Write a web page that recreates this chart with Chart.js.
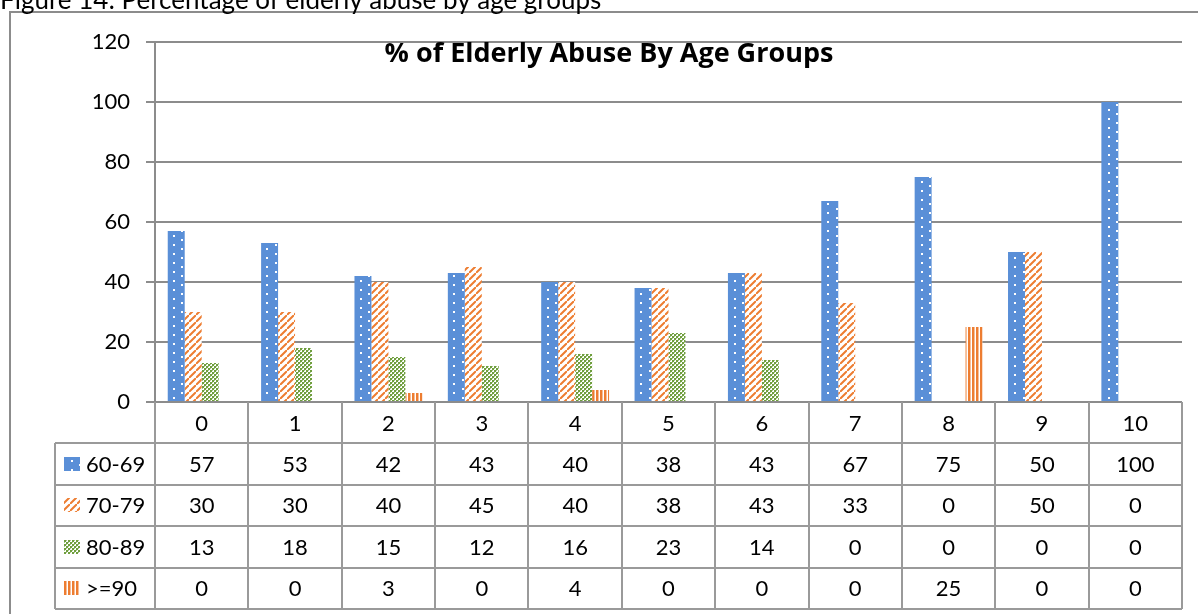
<!DOCTYPE html>
<html>
<head>
<meta charset="utf-8">
<script src="https://cdn.jsdelivr.net/npm/chart.js@4/dist/chart.umd.min.js"></script>
<style>
  html, body { margin: 0; padding: 0; background: #fff; }
  #wrap { width: 1198px; height: 614px; position: relative; }
</style>
</head>
<body>
<div id="wrap"><canvas id="c" width="1198" height="614"></canvas></div>
<script>
// Categories along the x axis
const categories = ['0', '1', '2', '3', '4', '5', '6', '7', '8', '9', '10'];

// Series names
const seriesNames = ['60-69', '70-79', '80-89', '>=90'];

// Percentage of elderly abuse per age group
const age6069 = [57, 53, 42, 43, 40, 38, 43, 67, 75, 50, 100];
const age7079 = [30, 30, 40, 45, 40, 38, 43, 33, 0, 50, 0];
const age8089 = [13, 18, 15, 12, 16, 23, 14, 0, 0, 0, 0];
const age90plus = [0, 0, 3, 0, 4, 0, 0, 0, 25, 0, 0];

// Y axis ticks
const yTicks = [0, 20, 40, 60, 80, 100, 120];

const chartTitle = '% of Elderly Abuse By Age Groups';
const figureCaption = 'Figure 14: Percentage of elderly abuse by age groups';

const FONT = 'Lato, "Open Sans", sans-serif';
const TITLE_FONT = '"Open Sans", Lato, sans-serif';
const GRID = '#8c8c8c';
const TABLE_LINE = '#9a9a9a';

const canvas = document.getElementById('c');
const ctx = canvas.getContext('2d');

function makePattern(w, h, draw) {
  const c = document.createElement('canvas');
  c.width = w; c.height = h;
  const g = c.getContext('2d');
  draw(g, w, h);
  return ctx.createPattern(c, 'repeat');
}

// Blue with small white dots
const patDots = makePattern(17, 9, (g, w, h) => {
  g.fillStyle = '#5a8fd7'; g.fillRect(0, 0, w, h);
  g.fillStyle = '#ffffff';
  g.fillRect(3, 1, 2, 2);
  g.fillRect(11, 5, 2, 2);
});
// Orange wide upward diagonal on white
const patDiag = makePattern(7, 7, (g, w, h) => {
  g.fillStyle = '#ffffff'; g.fillRect(0, 0, w, h);
  g.strokeStyle = '#ed7d31'; g.lineWidth = 2;
  g.beginPath();
  g.moveTo(-1, h + 1); g.lineTo(w + 1, -1);
  g.moveTo(-2, 1); g.lineTo(1, -2);
  g.moveTo(w - 1, h + 2); g.lineTo(w + 2, h - 1);
  g.stroke();
});
// Green small checkerboard
const patCheck = makePattern(4, 4, (g, w, h) => {
  g.fillStyle = '#ffffff'; g.fillRect(0, 0, w, h);
  g.fillStyle = '#6f9e3e';
  g.fillRect(0, 0, 2, 2);
  g.fillRect(2, 2, 2, 2);
  g.fillStyle = '#a9c98a';
  g.fillRect(2, 0, 1, 1);
  g.fillRect(0, 2, 1, 1);
});
// Orange vertical stripes on white
const patVert = makePattern(4, 4, (g, w, h) => {
  g.fillStyle = '#ffffff'; g.fillRect(0, 0, w, h);
  g.fillStyle = '#ed7d31'; g.fillRect(0, 0, 2, h);
  g.fillStyle = '#f6be98'; g.fillRect(2, 0, 1, h);
});

const patterns = [patDots, patDiag, patCheck, patVert];
const seriesData = [age6069, age7079, age8089, age90plus];

// Frame, caption, chart title and data table
const decorPlugin = {
  id: 'decor',
  afterDraw(chart) {
    const c = chart.ctx;
    const area = chart.chartArea;
    const xs = chart.scales.x;
    const n = categories.length;
    const step = xs.getPixelForValue(1) - xs.getPixelForValue(0);
    const colLeft = i => xs.getPixelForValue(i) - step / 2;
    const tableRight = colLeft(n);
    const legendLeft = 55;
    const headerH = 41;
    const rowH = 41.5;
    const top = area.bottom;
    const rowsTop = top + headerH;
    const bottom = rowsTop + rowH * seriesNames.length;

    c.save();
    // outer frame
    c.strokeStyle = GRID; c.lineWidth = 2;
    c.strokeRect(10, 12, 1210, 640);

    // caption
    c.fillStyle = '#000';
    c.font = '26px ' + FONT;
    c.textAlign = 'left'; c.textBaseline = 'alphabetic';
    c.fillText(figureCaption, 0, 9);

    // title
    c.font = 'bold 27px ' + TITLE_FONT;
    c.textAlign = 'center';
    c.fillText(chartTitle, 609, 62);

    // table grid
    c.strokeStyle = TABLE_LINE; c.lineWidth = 2;
    c.beginPath();
    for (let i = 0; i <= n; i++) {
      const x = Math.round(colLeft(i));
      c.moveTo(x, top); c.lineTo(x, bottom);
    }
    c.moveTo(legendLeft, rowsTop); c.lineTo(legendLeft, bottom);
    for (let r = 0; r <= seriesNames.length; r++) {
      const y = Math.round(rowsTop + r * rowH);
      c.moveTo(legendLeft, y); c.lineTo(tableRight, y);
    }
    c.stroke();

    // header numbers
    c.fillStyle = '#000';
    c.font = '22px ' + FONT;
    c.textAlign = 'center'; c.textBaseline = 'middle';
    for (let i = 0; i < n; i++) {
      c.fillText(categories[i], xs.getPixelForValue(i), top + headerH / 2 + 1);
    }
    // rows
    for (let r = 0; r < seriesNames.length; r++) {
      const cy = rowsTop + r * rowH + rowH / 2 + 1;
      for (let i = 0; i < n; i++) {
        c.fillText(String(seriesData[r][i]), xs.getPixelForValue(i), cy);
      }
      // legend key
      c.fillStyle = patterns[r];
      c.fillRect(64, Math.round(cy - 8), 16, 14);
      c.fillStyle = '#000';
      c.textAlign = 'left';
      c.fillText(seriesNames[r], 86, cy);
      c.textAlign = 'center';
    }
    c.restore();
  }
};

new Chart(ctx, {
  type: 'bar',
  data: {
    labels: categories,
    datasets: seriesNames.map((name, i) => ({
      label: name,
      data: seriesData[i],
      backgroundColor: patterns[i],
      borderWidth: 0,
      categoryPercentage: 0.727,
      barPercentage: 1
    }))
  },
  options: {
    responsive: false,
    animation: false,
    layout: { padding: { top: 42, right: 16, bottom: 212, left: 0 } },
    plugins: { legend: { display: false }, tooltip: { enabled: false }, title: { display: false } },
    scales: {
      x: { display: false },
      y: {
        min: 0, max: 120,
        afterBuildTicks(scale) { scale.ticks = yTicks.map(v => ({ value: v })); },
        afterFit(scale) { scale.width = 155; },
        ticks: { padding: 16, color: '#000', font: { family: FONT, size: 22 } },
        grid: { color: GRID, lineWidth: 2, tickLength: 9 },
        border: { color: GRID, width: 2 }
      }
    }
  },
  plugins: [decorPlugin]
});
</script>
</body>
</html>
